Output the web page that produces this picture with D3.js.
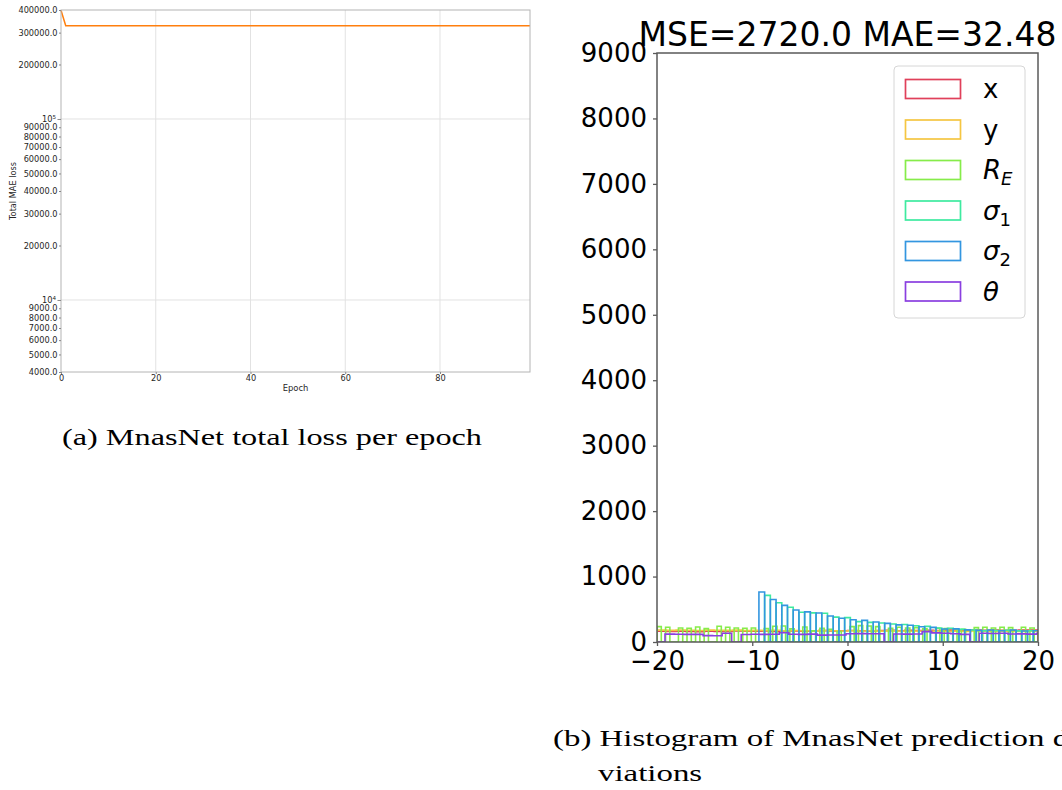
<!DOCTYPE html>
<html>
<head>
<meta charset="utf-8">
<script src="https://cdn.jsdelivr.net/npm/d3@7"></script>
<style>
  body { margin: 0; background: #ffffff; }
  svg { display: block; }
</style>
</head>
<body>
<svg id="fig" width="1062" height="790"></svg>
<script>
// ---------------- data ----------------
// (a) total MAE loss per epoch (epochs 0..99)
const lossPerEpoch = [
  399000, 327600, 327600, 327600, 327600, 327600, 327600, 327600, 327600, 327600,
  327600, 327600, 327600, 327600, 327600, 327600, 327600, 327600, 327600, 327600,
  327600, 327600, 327600, 327600, 327600, 327600, 327600, 327600, 327600, 327600,
  327600, 327600, 327600, 327600, 327600, 327600, 327600, 327600, 327600, 327600,
  327600, 327600, 327600, 327600, 327600, 327600, 327600, 327600, 327600, 327600,
  327600, 327600, 327600, 327600, 327600, 327600, 327600, 327600, 327600, 327600,
  327600, 327600, 327600, 327600, 327600, 327600, 327600, 327600, 327600, 327600,
  327600, 327600, 327600, 327600, 327600, 327600, 327600, 327600, 327600, 327600,
  327600, 327600, 327600, 327600, 327600, 327600, 327600, 327600, 327600, 327600,
  327600, 327600, 327600, 327600, 327600, 327600, 327600, 327600, 327600, 327600
];
const epochTicks = [0, 20, 40, 60, 80];
const lossMinorTicks = [4000, 5000, 6000, 7000, 8000, 9000,
  20000, 30000, 40000, 50000, 60000, 70000, 80000, 90000,
  200000, 300000, 400000];
const lossMajorTicks = [10000, 100000];

// (b) histogram of prediction deviations, one count array per parameter
const xDevStart = -20, xDevWidth = 1;
const xDevCounts = [164,160,166,162,158,165,163,161,167,164, 166,169,163,170,168,165,171,174,169,172,
                    176,173,170,175,178,172,177,174,179,176, 181,178,175,182,179,184,180,177,183,181];
const yDevStart = -20, yDevWidth = 1;
const yDevCounts = [181,178,183,179,176,182,180,177,181,174, 178,175,179,172,176,173,170,175,171,168,
                    173,169,172,166,170,167,164,169,165,168, 163,166,162,167,164,161,165,160,163,166];
const reDevStart = -20, reDevWidth = 0.45;
const reDevCounts = [235,0,225,0,0,215,0,210,0,230, 0,205,0,0,240,0,225,0,215,0,
                     210,0,215,0,0,205,0,240,0,245, 0,200,0,0,230,0,170,0,210,0,
                     195,0,160,0,0,235,0,250,0,245, 0,235,0,0,210,0,225,0,215,0,
                     220,0,200,0,0,210,0,205,0,200, 0,195,0,0,220,0,225,0,215,0,
                     225,0,220,0,0,225,0,215,0];
const sigma1DevStart = -9.3, sigma1DevWidth = 0.6;
const sigma1DevCounts = [0,713,0,600,0,530,0,454,0,445, 0,440,0,380,0,372,0,311,0,300,
                         0,290,0,275,0,268,0,248,0,238, 0,215,0,209,0,194,0,183,0,173,
                         0,176,0,180,0,170,0,172,0];
const sigma2DevStart = -9.3, sigma2DevWidth = 0.6;
const sigma2DevCounts = [764,0,650,0,560,0,490,0,460,0, 443,0,397,0,362,0,340,0,330,0,
                         306,0,285,0,262,0,255,0,234,0, 224,0,199,0,200,0,186,0,178,0,
                         183,0,173,0,183,0,168,0,173];
const thetaDevStart = -20.16, thetaDevWidth = 1;
const thetaDevCounts = [0,120,118,117,116,98,96,133,0,115, 118,116,119,142,118,117,120,105,108,107,
                        125,128,127,126,0,122,120,123,158,140, 133,125,117,0,133,131,134,122,124,121,
                        133];
const devXTicks = [-20, -10, 0, 10, 20];
const devYTicks = [0, 1000, 2000, 3000, 4000, 5000, 6000, 7000, 8000, 9000];
const histTitle = "MSE=2720.0 MAE=32.48";

// ---------------- figure ----------------
const svg = d3.select("#fig");
const SANS = "DejaVu Sans, Verdana, sans-serif";
const SERIF = "Liberation Serif, Times New Roman, serif";

// ===== panel (a): loss curve on a log axis =====
const A = { left: 61, right: 530, top: 10, bottom: 372 };
const xA = d3.scaleLinear().domain([0, 99]).range([A.left, A.right]);
const yA = d3.scaleLog().domain([4000, 400000]).range([A.bottom, A.top]);
const gA = svg.append("g");

// grid on major ticks
gA.append("g").selectAll("line").data(epochTicks.filter(d => d > 0)).join("line")
  .attr("x1", d => xA(d)).attr("x2", d => xA(d))
  .attr("y1", A.top).attr("y2", A.bottom)
  .attr("stroke", "#e2e2e2").attr("stroke-width", 1);
gA.append("g").selectAll("line").data(lossMajorTicks).join("line")
  .attr("x1", A.left).attr("x2", A.right)
  .attr("y1", d => yA(d)).attr("y2", d => yA(d))
  .attr("stroke", "#e2e2e2").attr("stroke-width", 1);

// loss line
gA.append("path").datum(lossPerEpoch)
  .attr("d", d3.line().x((d, i) => xA(i)).y(d => yA(d)))
  .attr("fill", "none").attr("stroke", "#ff7f0e").attr("stroke-width", 1.5);

// frame
gA.append("rect")
  .attr("x", A.left).attr("y", A.top)
  .attr("width", A.right - A.left).attr("height", A.bottom - A.top)
  .attr("fill", "none").attr("stroke", "#b4b4b4").attr("stroke-width", 1);

function styleSmallAxis(g) {
  g.select(".domain").remove();
  g.selectAll(".tick line").attr("stroke", "#888");
  g.selectAll("text").attr("font-family", SANS).attr("font-size", "8.2px").attr("fill", "#262626");
}
// y axis: minor labels as plain numbers, majors as powers of ten
gA.append("g").attr("transform", `translate(${A.left},0)`)
  .call(d3.axisLeft(yA).tickValues(lossMinorTicks).tickFormat(d => d.toFixed(1)).tickSize(2).tickPadding(1.5))
  .call(styleSmallAxis);
gA.append("g").attr("transform", `translate(${A.left},0)`)
  .call(d3.axisLeft(yA).tickValues(lossMajorTicks).tickFormat(() => "").tickSize(3.5).tickPadding(1.5))
  .call(styleSmallAxis)
  .selectAll(".tick text").each(function (d) {
    const t = d3.select(this);
    t.text("10");
    t.append("tspan").attr("dy", "-0.5em").attr("font-size", "5.6px").text(Math.round(Math.log10(d)));
  });
gA.append("g").attr("transform", `translate(0,${A.bottom})`)
  .call(d3.axisBottom(xA).tickValues(epochTicks).tickSize(2).tickPadding(1.5))
  .call(styleSmallAxis);

gA.append("text")
  .attr("x", (A.left + A.right) / 2).attr("y", 391)
  .attr("text-anchor", "middle")
  .attr("font-family", SANS).attr("font-size", "8.4px").attr("fill", "#262626")
  .text("Epoch");
gA.append("text")
  .attr("transform", `translate(16,${(A.top + A.bottom) / 2}) rotate(-90)`)
  .attr("text-anchor", "middle")
  .attr("font-family", SANS).attr("font-size", "8.2px").attr("fill", "#262626")
  .text("Total MAE loss");

// ===== panel (b): step histograms of deviations =====
const B = { left: 657, right: 1038, top: 53, bottom: 642 };
const xB = d3.scaleLinear().domain([-20, 20]).range([B.left, B.right]);
const yB = d3.scaleLinear().domain([0, 9000]).range([B.bottom, B.top]);
const gB = svg.append("g");

svg.append("defs").append("clipPath").attr("id", "plotB")
  .append("rect")
  .attr("x", B.left).attr("y", B.top)
  .attr("width", B.right - B.left).attr("height", B.bottom - B.top);

const histSeries = [
  { label: "x",  start: xDevStart,      width: xDevWidth,      counts: xDevCounts,      color: "#e0405a" },
  { label: "y",  start: yDevStart,      width: yDevWidth,      counts: yDevCounts,      color: "#f5c642" },
  { label: "RE", start: reDevStart,     width: reDevWidth,     counts: reDevCounts,     color: "#86ec4a" },
  { label: "s1", start: sigma1DevStart, width: sigma1DevWidth, counts: sigma1DevCounts, color: "#3eeaa0" },
  { label: "s2", start: sigma2DevStart, width: sigma2DevWidth, counts: sigma2DevCounts, color: "#3396e0" },
  { label: "th", start: thetaDevStart,  width: thetaDevWidth,  counts: thetaDevCounts,  color: "#8a3fe0" }
];

// outline of a histogram drawn as a step path: up at the first edge, across each bin, down at the last
function stepOutline(s) {
  const pts = [[s.start, 0]];
  s.counts.forEach((c, i) => {
    pts.push([s.start + i * s.width, c]);
    pts.push([s.start + (i + 1) * s.width, c]);
  });
  pts.push([s.start + s.counts.length * s.width, 0]);
  return pts;
}
const stepLine = d3.line().x(p => xB(p[0])).y(p => yB(p[1]));

gB.append("g").attr("clip-path", "url(#plotB)")
  .selectAll("path").data(histSeries).join("path")
  .attr("d", s => stepLine(stepOutline(s)))
  .attr("fill", "none")
  .attr("stroke", s => s.color)
  .attr("stroke-width", 1.6)
  .attr("stroke-linejoin", "miter");

// frame
gB.append("rect")
  .attr("x", B.left).attr("y", B.top)
  .attr("width", B.right - B.left).attr("height", B.bottom - B.top)
  .attr("fill", "none").attr("stroke", "#5a5a5a").attr("stroke-width", 1.5);

function styleBigAxis(g) {
  g.select(".domain").remove();
  g.selectAll(".tick line").attr("stroke", "#5a5a5a").attr("stroke-width", 1.3);
  g.selectAll("text").attr("font-family", SANS).attr("font-size", "26px").attr("fill", "#000");
}
gB.append("g").attr("transform", `translate(${B.left},0)`)
  .call(d3.axisLeft(yB).tickValues(devYTicks).tickFormat(d3.format("d")).tickSize(4).tickPadding(6))
  .call(styleBigAxis);
gB.append("g").attr("transform", `translate(0,${B.bottom})`)
  .call(d3.axisBottom(xB).tickValues(devXTicks)
    .tickFormat(d => d < 0 ? "\u2212" + Math.abs(d) : String(d)).tickSize(4).tickPadding(6))
  .call(styleBigAxis);

gB.append("text")
  .attr("x", (B.left + B.right) / 2).attr("y", 46)
  .attr("text-anchor", "middle")
  .attr("font-family", SANS).attr("font-size", "33px").attr("fill", "#000")
  .text(histTitle);

// legend
const legend = gB.append("g");
const LG = { x: 894, y: 66, w: 131, h: 252, row: 40.5, first: 23 };
legend.append("rect")
  .attr("x", LG.x).attr("y", LG.y).attr("width", LG.w).attr("height", LG.h)
  .attr("rx", 4).attr("fill", "#ffffff").attr("fill-opacity", 0.85)
  .attr("stroke", "#d6d6d6").attr("stroke-width", 1);
const rows = legend.selectAll("g.row").data(histSeries).join("g")
  .attr("transform", (d, i) => `translate(0,${LG.y + LG.first + i * LG.row})`);
rows.append("rect")
  .attr("x", 905.5).attr("y", -9.5).attr("width", 55).attr("height", 19)
  .attr("fill", "none").attr("stroke", d => d.color).attr("stroke-width", 1.7);
rows.append("text")
  .attr("x", 983).attr("y", 9)
  .attr("font-family", SANS).attr("font-size", "26px").attr("fill", "#000")
  .each(function (d) {
    const t = d3.select(this);
    if (d.label === "x" || d.label === "y") { t.text(d.label); return; }
    if (d.label === "RE") {
      t.append("tspan").attr("font-style", "italic").text("R");
      t.append("tspan").attr("font-style", "italic").attr("font-size", "18px").attr("dy", 6).text("E");
    } else if (d.label === "s1" || d.label === "s2") {
      t.append("tspan").attr("font-style", "italic").text("\u03C3");
      t.append("tspan").attr("font-size", "18px").attr("dy", 6).text(d.label === "s1" ? "1" : "2");
    } else {
      t.append("tspan").attr("font-style", "italic").text("\u03B8");
    }
  });

// ===== sub-figure captions =====
const capA = svg.append("text")
  .attr("x", 62).attr("y", 445)
  .attr("font-family", SERIF).attr("font-size", "24px").attr("fill", "#000")
  .text("(a) MnasNet total loss per epoch");
const natA = capA.node().getComputedTextLength();
const stretch = 420 / natA;
capA.attr("textLength", 420).attr("lengthAdjust", "spacingAndGlyphs");

const capB1 = svg.append("text")
  .attr("x", 553).attr("y", 746)
  .attr("font-family", SERIF).attr("font-size", "24px").attr("fill", "#000")
  .text("(b) Histogram of MnasNet prediction de-");
capB1.attr("textLength", capB1.node().getComputedTextLength() * stretch * 1.02).attr("lengthAdjust", "spacingAndGlyphs");
const capB2 = svg.append("text")
  .attr("x", 598).attr("y", 781)
  .attr("font-family", SERIF).attr("font-size", "24px").attr("fill", "#000")
  .text("viations");
capB2.attr("textLength", capB2.node().getComputedTextLength() * stretch * 1.02).attr("lengthAdjust", "spacingAndGlyphs");
</script>
</body>
</html>
